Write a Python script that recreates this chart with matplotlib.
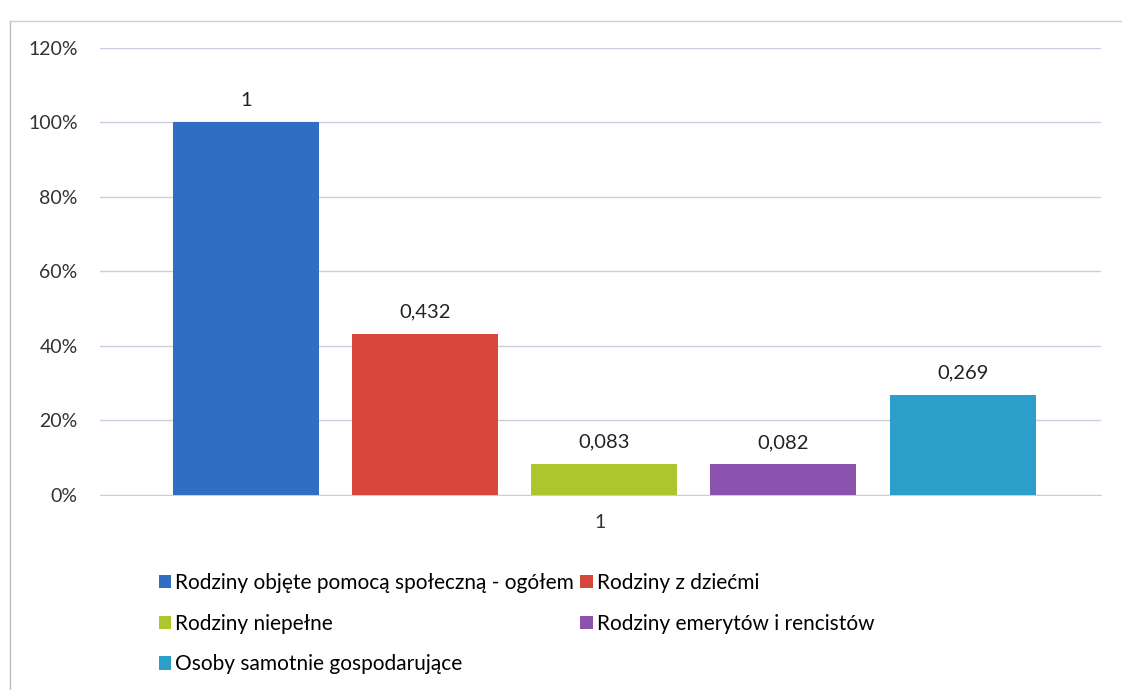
import matplotlib.pyplot as plt
from matplotlib.lines import Line2D

plt.rcParams['font.family'] = ['Lato', 'DejaVu Sans']

series_names = [
    'Rodziny objęte pomocą społeczną - ogółem',
    'Rodziny z dziećmi',
    'Rodziny niepełne',
    'Rodziny emerytów i rencistów',
    'Osoby samotnie gospodarujące',
]
values = [1, 0.432, 0.083, 0.082, 0.269]
value_labels = ['1', '0,432', '0,083', '0,082', '0,269']
category = ['1']
colors = ['#2F6EC2', '#D8473B', '#AEC62E', '#8B52AE', '#2B9FC9']

fig = plt.figure(figsize=(11.22, 6.9), dpi=100)
ax = fig.add_axes([0.089, 0.283, 0.892, 0.648])

step = 0.179
width = 0.146
bars = []
for i, (name, v) in enumerate(zip(series_names, values)):
    x = (i - 2) * step + 0.004
    b = ax.bar(x, v, width=width, color=colors[i], label=name, zorder=3)
    bars.append(b)
    ax.text(x, v + 0.035, value_labels[i], ha='center', va='bottom',
            fontsize=14.5, color='#222222')

ax.set_xlim(-0.5, 0.5)
ax.set_ylim(0, 1.2)
ax.set_yticks([0, 0.2, 0.4, 0.6, 0.8, 1.0, 1.2])
ax.set_yticklabels(['0%', '20%', '40%', '60%', '80%', '100%', '120%'])
ax.set_xticks([0])
ax.set_xticklabels(category)
ax.tick_params(axis='both', length=0, labelsize=14, colors='#333333')
ax.tick_params(axis='x', pad=14)
ax.tick_params(axis='y', pad=16)
ax.grid(axis='y', color='#C9CFE0', linewidth=1, zorder=0)
for s in ['top', 'right', 'left']:
    ax.spines[s].set_visible(False)
ax.spines['bottom'].set_color('#C9CFE0')

# legend rows: blue/red, green/purple, cyan
order = [0, 2, 4, 1, 3]
handles = [bars[i] for i in order]
labels = [series_names[i] for i in order]
fig.legend(handles, labels, loc='upper left', bbox_to_anchor=(0.134, 0.182),
           ncol=2, frameon=False, fontsize=15, handlelength=0.6,
           handleheight=0.6, handletextpad=0.2, columnspacing=0.3,
           labelspacing=1.0, borderaxespad=0)

# chart frame edges from the scan
fig.add_artist(Line2D([0.009, 0.009], [0.0, 0.97], color='#BBBBBB', lw=1))
fig.add_artist(Line2D([0.009, 1.0], [0.97, 0.97], color='#D0D0D0', lw=1))

fig.savefig('out.png')
